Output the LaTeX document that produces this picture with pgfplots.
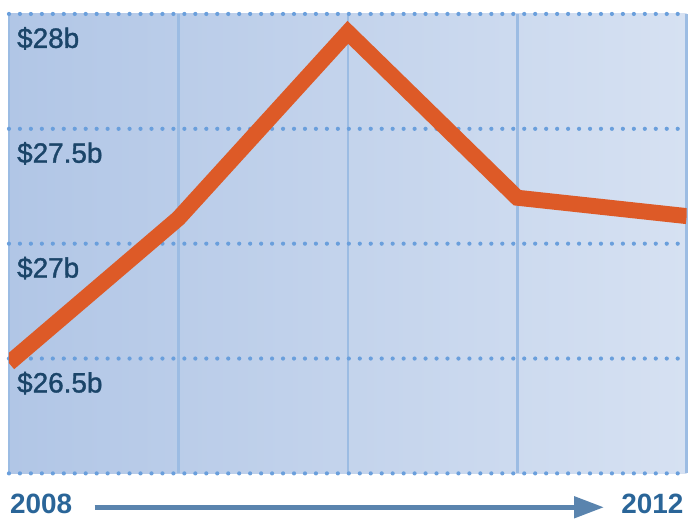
\documentclass[border=0pt]{standalone}
\usepackage{pgfplots}
\pgfplotsset{compat=1.18}
\usepackage{fontspec}
\setmainfont{Liberation Sans}
\newfontfamily\medfont{Liberation Sans}[FakeBold=1.3]
\usetikzlibrary{arrows.meta}
\definecolor{bgL}{HTML}{B1C6E6}
\definecolor{bgR}{HTML}{D6E1F2}
\definecolor{dotC}{HTML}{6A9FDC}
\definecolor{vlineC}{HTML}{9CBCE3}
\definecolor{lineC}{HTML}{DD5A27}
\definecolor{lblC}{HTML}{1B4569}
\definecolor{yearC}{HTML}{2A6598}
\definecolor{arrowC}{HTML}{5A84AE}
\begin{document}
\begin{tikzpicture}[x=1pt,y=1pt]
\path (0,0) rectangle (690,520);
\begin{axis}[
    at={(9pt,45pt)}, anchor=south west,
    scale only axis, width=680pt, height=461pt,
    xmin=2008, xmax=2012, ymin=26, ymax=28,
    xtick={2008,2009,2010,2011,2012},
    ytick={26,26.5,27,27.5,28},
    xticklabels={}, yticklabels={},
    axis line style={draw=none},
    major tick style={draw=none},
    xmajorgrids, ymajorgrids,
    x grid style={vlineC, line width=2.5pt},
    y grid style={dotC, line width=4.2pt, line cap=round, dash pattern=on 0pt off 11pt},
    axis background/.style={left color=bgL, right color=bgR},
]
\addplot[lineC, line width=16pt, line join=miter] coordinates {
(2008,26.48) (2009,27.11) (2010,27.92) (2011,27.20) (2012,27.12)
};
\foreach \v/\t in {28/28, 27.5/27.5, 27/27, 26.5/26.5} {
  \edef\tmp{\noexpand\node[anchor=base west, inner sep=0pt, text=lblC,
    font=\noexpand\medfont\noexpand\fontsize{28}{30}\noexpand\selectfont, xshift=8pt, yshift=-34pt]
    at (axis cs:2008,\v) {\noexpand\$\t b};}
  \tmp
}
\end{axis}
\draw[arrowC, line width=5pt, -{Triangle[length=30pt,width=21pt]}] (95,11) -- (606,11);
\node[anchor=base west, inner sep=0pt, text=yearC, font=\fontsize{28}{30}\selectfont\bfseries] at (10,4.5) {2008};
\node[anchor=base east, inner sep=0pt, text=yearC, font=\fontsize{28}{30}\selectfont\bfseries] at (686,4.5) {2012};
\end{tikzpicture}
\end{document}
